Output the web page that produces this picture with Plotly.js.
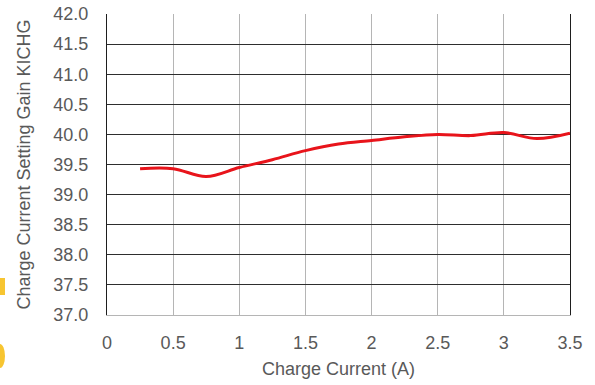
<!DOCTYPE html>
<html>
<head>
<meta charset="utf-8">
<script src="https://cdn.plot.ly/plotly-3.0.1.min.js"></script>
<style>
  html, body { margin: 0; padding: 0; background: #fff; }
  #chart { width: 595px; height: 385px; }
</style>
</head>
<body>
<div id="chart"></div>
<script>
// Charge current (A) and the measured current setting gain KICHG
const chargeCurrent = [0.25, 0.5, 0.75, 1.0, 1.25, 1.5, 1.75, 2.0, 2.25, 2.5, 2.75, 3.0, 3.25, 3.5];
const gainKICHG     = [39.43, 39.43, 39.30, 39.45, 39.58, 39.73, 39.84, 39.90, 39.96, 40.00, 39.98, 40.03, 39.93, 40.02];

const xTickVals = [0, 0.5, 1, 1.5, 2, 2.5, 3, 3.5];
const xTickText = ['0', '0.5', '1', '1.5', '2', '2.5', '3', '3.5'];
const yTickVals = [37, 37.5, 38, 38.5, 39, 39.5, 40, 40.5, 41, 41.5, 42];
const yTickText = ['37.0', '37.5', '38.0', '38.5', '39.0', '39.5', '40.0', '40.5', '41.0', '41.5', '42.0'];

const textGray = '#595959';
const fontFamily = '"Liberation Sans", Arial, sans-serif';

const trace = {
  x: chargeCurrent,
  y: gainKICHG,
  type: 'scatter',
  mode: 'lines',
  line: { color: '#E8141B', width: 3, shape: 'spline', smoothing: 1 },
  hoverinfo: 'skip'
};

const layout = {
  width: 595,
  height: 385,
  margin: { l: 107, r: 25, t: 14, b: 70, pad: 0 },
  paper_bgcolor: '#ffffff',
  plot_bgcolor: '#ffffff',
  showlegend: false,
  font: { family: fontFamily, color: textGray, size: 18 },
  xaxis: {
    range: [0, 3.5],
    tickvals: xTickVals,
    ticktext: xTickText,
    ticks: '',
    showgrid: true,
    gridcolor: '#b5b5b5',
    gridwidth: 1,
    zeroline: false,
    showline: true,
    linecolor: '#b5b5b5',
    linewidth: 1,
    ticklabelstandoff: 11,
    tickfont: { size: 18, color: textGray },
    title: { text: 'Charge Current (A)', font: { size: 18, color: textGray }, standoff: 10 },
    fixedrange: true
  },
  yaxis: {
    range: [37, 42],
    tickvals: yTickVals,
    ticktext: yTickText,
    ticks: '',
    showgrid: true,
    gridcolor: '#2e2e2e',
    gridwidth: 1,
    zeroline: false,
    showline: true,
    mirror: true,
    linecolor: '#1e1e1e',
    linewidth: 1,
    ticklabelstandoff: 14,
    tickfont: { size: 18, color: textGray },
    title: { text: 'Charge Current Setting Gain KICHG', font: { size: 18, color: textGray }, standoff: 18 },
    fixedrange: true
  },
  shapes: [
    // yellow edge marks at the left border
    { type: 'rect', xref: 'paper', yref: 'paper',
      x0: -107 / 463, x1: -102 / 463, y0: (315 - 295) / 301, y1: (315 - 278) / 301,
      fillcolor: '#F7C531', line: { width: 0 } },
    { type: 'circle', xref: 'paper', yref: 'paper',
      x0: -112 / 463, x1: -102 / 463, y0: (315 - 368) / 301, y1: (315 - 344) / 301,
      fillcolor: '#F7C531', line: { width: 0 } }
  ]
};

Plotly.newPlot('chart', [trace], layout, { staticPlot: true, displayModeBar: false });
</script>
</body>
</html>
